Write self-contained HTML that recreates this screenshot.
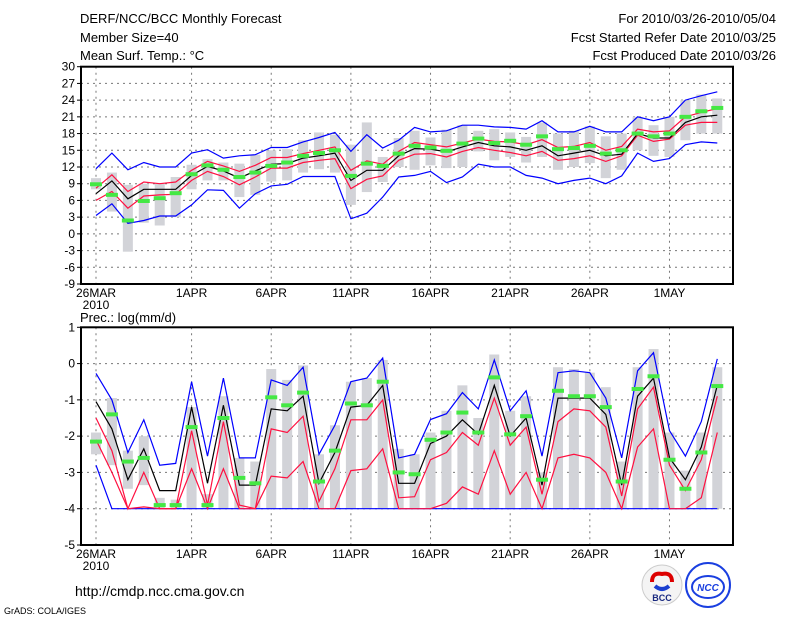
<!DOCTYPE html>
<html><head><meta charset="utf-8"><style>
html,body{margin:0;padding:0;background:#fff;}
svg{display:block;font-family:"Liberation Sans",sans-serif;}
</style></head><body>
<svg id="chart" width="800" height="618" viewBox="0 0 800 618">
<g font-size="13" fill="#000">
<text x="80" y="23">DERF/NCC/BCC Monthly Forecast</text>
<text x="80" y="42">Member Size=40</text>
<text x="80" y="60">Mean Surf. Temp.: °C</text>
<text x="776" y="23" text-anchor="end">For 2010/03/26-2010/05/04</text>
<text x="776" y="42" text-anchor="end">Fcst Started Refer Date 2010/03/25</text>
<text x="776" y="60" text-anchor="end">Fcst Produced Date 2010/03/26</text>
<text x="80" y="322">Prec.: log(mm/d)</text>
<text x="75" y="596" font-size="14">http://cmdp.ncc.cma.gov.cn</text>
<text x="4" y="614" font-size="9">GrADS: COLA/IGES</text>
</g>
<g>
<circle cx="662" cy="585" r="20" fill="#f4f4f4" stroke="#ccc"/>
<path d="M652 582 q0 -10 10 -8 q10 -2 10 8" fill="none" stroke="#d00" stroke-width="4"/>
<path d="M655 586 q7 6 14 0" fill="none" stroke="#1a3fd0" stroke-width="4"/>
<text x="662" y="601" font-size="9" font-weight="bold" text-anchor="middle" fill="#1a2a80">BCC</text>
</g>
<g>
<circle cx="708" cy="585" r="22" fill="#fff" stroke="#1a3fe0" stroke-width="2"/>
<ellipse cx="708" cy="587" rx="16" ry="11" fill="none" stroke="#1a3fe0" stroke-width="2"/>
<text x="708" y="591" font-size="10" font-weight="bold" font-style="italic" text-anchor="middle" fill="#1a3fe0">NCC</text>
</g>
<g id="top"></g>
<g id="bot"></g>
</svg>
<script>
const days=[...Array(40).keys()];
const xTickDays=[0,6,11,16,21,26,31,36];
const xTickLabels=["26MAR","1APR","6APR","11APR","16APR","21APR","26APR","1MAY"];
const tTicks=[-9,-6,-3,0,3,6,9,12,15,18,21,24,27,30];
const pTicks=[-5,-4,-3,-2,-1,0,1];
// temperature
const tBlueHi=[11.7,14.5,11.5,12.8,12.0,12.0,14.5,15.1,13.6,14.0,14.2,15.5,15.5,16.5,17.3,18.2,14.8,17.8,15.4,16.8,19.1,18.3,18.5,19.5,19.5,19.2,19.1,18.8,20.3,18.3,18.3,19.3,18.3,18.3,21.0,20.3,21.0,24.0,24.8,25.5];
const tBlueLo=[3.3,5.4,1.9,2.4,3.2,3.2,5.2,7.9,7.8,4.6,7.2,8.6,8.9,10.3,10.3,10.3,2.7,3.7,6.6,10.2,10.5,11.2,9.2,10.2,12.5,12.0,12.0,10.5,10.0,9.0,9.6,10.0,9.0,10.4,14.5,13.0,13.5,16.0,16.5,16.3];
const tRedHi=[8.2,10.6,7.6,9.3,9.0,9.3,11.4,13.0,12.2,11.2,12.3,13.7,13.7,14.4,15.0,15.6,11.4,13.1,12.5,14.8,16.4,16.0,15.6,16.3,17.0,16.6,16.5,16.0,16.9,15.5,15.7,16.4,15.0,15.7,18.8,18.3,18.5,21.0,21.8,22.5];
const tRedLo=[6.0,7.6,4.6,6.8,7.0,7.1,9.6,11.2,10.3,8.8,10.2,11.8,11.8,12.8,13.2,13.5,8.1,9.8,10.4,13.2,14.3,14.4,13.8,14.8,15.5,15.0,14.6,14.0,14.8,13.2,13.5,14.0,13.0,14.0,17.7,16.6,17.0,19.5,20.0,20.0];
const tMean=[7.2,9.5,6.3,8.0,8.0,8.0,10.5,12.1,11.3,10.0,11.3,12.5,12.6,13.6,14.0,14.5,9.6,11.4,11.4,14.0,15.3,15.2,14.7,15.6,16.4,15.8,15.6,15.0,15.8,14.0,14.5,15.0,14.0,14.3,18.0,17.2,17.2,20.0,21.0,21.3];
const tGreen=[8.9,7.0,2.4,5.9,6.4,7.3,10.7,12.3,11.5,10.2,11.0,12.2,12.8,14.0,14.5,15.0,10.4,12.6,12.2,14.4,15.8,15.5,14.9,16.2,17.1,16.3,16.7,16.0,17.5,15.2,15.4,15.8,14.4,15.0,18.0,17.5,18.0,21.0,22.0,22.6];
const tBarLo=[8,4,-3.2,2,1.5,3,8,9.6,9.6,6.6,7,9.4,9.6,11,11.6,11,5.2,7.5,9.3,12,11.5,12.3,11.8,12,14.8,13.2,13.8,12.8,13.8,11.5,12,12.7,10,11.5,15,14,13.8,16.8,18,18];
const tBarHi=[10,11,8.8,9,9,10.2,12.4,13.4,12.8,12.6,14.2,15,15.2,16.8,18.2,17.8,16,20,13.8,17.2,18.5,17.3,18.7,19.5,18.5,18.8,18.2,17.4,20,18,18.5,19.3,17.5,18,21,19.5,21,24,25,24.3];
// precipitation
const pBlueHi=[-0.27,-1.0,-2.45,-1.55,-2.8,-2.75,-0.5,-2.55,-0.4,-2.6,-2.6,-0.45,-0.6,-0.1,-2.5,-1.7,-0.5,-0.4,0.15,-2.6,-2.5,-1.54,-1.38,-0.8,-1.25,0.1,-1.3,-0.75,-2.55,-0.25,-0.2,-0.25,-0.95,-2.6,-0.2,0.3,-1.85,-2.55,-1.6,0.13];
const pBlueLo=[-2.8,-4,-4,-4,-4,-4,-4,-4,-4,-4,-4,-4,-4,-4,-4,-4,-4,-4,-4,-4,-4,-4,-4,-4,-4,-4,-4,-4,-4,-4,-4,-4,-4,-4,-4,-4,-4,-4,-4,-4];
const pRedHi=[-1.5,-2.4,-4,-3.0,-4,-4,-1.85,-3.9,-1.6,-3.9,-4,-1.8,-1.9,-1.45,-3.8,-2.9,-1.55,-1.55,-1.0,-3.7,-3.67,-2.65,-2.45,-1.9,-2.25,-0.95,-2.25,-1.75,-3.6,-1.6,-1.25,-1.3,-1.75,-3.65,-1.25,-0.65,-2.8,-3.5,-2.65,-0.9];
const pRedLo=[-2.1,-3.0,-4,-3.95,-4,-4,-2.9,-4,-2.9,-4,-4,-3.1,-3.15,-2.7,-4,-4,-2.95,-2.9,-2.35,-4,-4,-4,-3.85,-3.4,-3.6,-2.4,-3.6,-3.0,-4,-2.6,-2.5,-2.6,-3.0,-4,-2.3,-1.8,-4,-4,-3.7,-1.9];
const pMean=[-1.05,-1.8,-3.2,-2.35,-3.5,-3.5,-1.2,-3.3,-1.15,-3.35,-3.35,-1.25,-1.3,-0.9,-3.3,-2.45,-1.2,-1.15,-0.6,-3.3,-3.3,-2.2,-2.0,-1.55,-1.95,-0.6,-2.0,-1.5,-3.35,-0.95,-0.95,-0.95,-1.4,-3.35,-0.9,-0.4,-2.6,-3.2,-2.3,-0.6];
const pGreen=[-2.15,-1.4,-2.7,-2.6,-3.9,-3.9,-1.75,-3.9,-1.5,-3.15,-3.3,-0.93,-1.15,-0.8,-3.25,-2.4,-1.1,-1.15,-0.5,-3.0,-3.05,-2.1,-1.9,-1.35,-1.9,-0.38,-1.95,-1.45,-3.2,-0.75,-0.9,-0.9,-1.2,-3.25,-0.7,-0.35,-2.65,-3.45,-2.45,-0.62];
const pBarLo=[-2.5,-2.8,-3.45,-3.35,-4,-4,-4,-4,-4,-4,-4,-4,-4,-4,-4,-4,-4,-4,-4,-4,-4,-4,-4,-4,-4,-4,-4,-4,-4,-4,-4,-4,-4,-4,-4,-4,-4,-4,-4,-4];
const pBarHi=[-1.9,-0.95,-2.4,-2.0,-3.7,-3.75,-1.2,-3.6,-0.9,-2.6,-2.7,-0.15,-0.45,-0.05,-2.5,-1.7,-0.5,-0.4,0.1,-2.35,-2.5,-1.9,-1.3,-0.6,-1.5,0.25,-1.3,-0.9,-3.0,-0.1,-0.15,-0.25,-0.65,-2.7,-0.1,0.4,-1.9,-2.95,-1.9,-0.1];

const NS="http://www.w3.org/2000/svg";
const X0=81,X1=733;
function xs(d){return 96+d*15.93;}
function mk(tag,parent,attrs){const e=document.createElementNS(NS,tag);for(const k in attrs)e.setAttribute(k,attrs[k]);parent.appendChild(e);return e;}

function panel(g,top,bot,vmin,vmax,ticks,series,bars,green,prefix){
  const ys=v=>top+(vmax-v)*(bot-top)/(vmax-vmin);
  // grid
  ticks.forEach(t=>{
    if(t>vmin&&t<vmax){const l=mk('line',g,{x1:X0,x2:X1,y1:ys(t),y2:ys(t),stroke:'#777','stroke-dasharray':'2,4','stroke-width':1});
    
    }
    const tk=mk('line',g,{x1:X0-4,x2:X0,y1:ys(t),y2:ys(t),stroke:'#000'});
    
    
    const tx=mk('text',g,{x:X0-6,y:ys(t)+4,'font-size':12,'text-anchor':'end'});
    tx.textContent=String(t);
    
    
  });
  xTickDays.forEach((d,i)=>{
    const l=mk('line',g,{x1:xs(d),x2:xs(d),y1:top,y2:bot,stroke:'#777','stroke-dasharray':'2,4'});
    
    
    const tx=mk('text',g,{x:xs(d),y:bot+13,'font-size':12,'text-anchor':'middle'});
    tx.textContent=xTickLabels[i];
    
    
  });
  const yr=mk('text',g,{x:xs(0),y:bot+25,'font-size':12,'text-anchor':'middle'});
  yr.textContent='2010';
  
  
  // bars
  days.forEach(d=>{
    const a=ys(bars[1][d]),b=ys(bars[0][d]);
    const r=mk('rect',g,{x:xs(d)-5,y:a,width:10,height:Math.max(1,b-a),fill:'#d2d3d8'});
    
    
  });
  series.forEach(s=>{
    const pts=days.map(d=>xs(d).toFixed(1)+','+ys(s.v[d]).toFixed(1)).join(' ');
    const p=mk('polyline',g,{points:pts,fill:'none',stroke:s.c,'stroke-width':1.2});
    
    
  });
  days.forEach(d=>{
    const r=mk('rect',g,{x:xs(d)-6,y:ys(green[d])-2,width:12,height:4,fill:'#44e844'});
    
    
  });
  const f=mk('rect',g,{x:X0,y:top,width:X1-X0,height:bot-top,fill:'none',stroke:'#000','stroke-width':2});
  
  
}
panel(document.getElementById('top'),66.7,284,-9,30,tTicks,
 [{n:'max-line',v:tBlueHi,c:'#0000ff'},{n:'min-line',v:tBlueLo,c:'#0000ff'},{n:'upper-line',v:tRedHi,c:'#ff1040'},{n:'lower-line',v:tRedLo,c:'#ff1040'},{n:'mean-line',v:tMean,c:'#000'}],
 [tBarLo,tBarHi],tGreen,'temp');
panel(document.getElementById('bot'),327.3,545,-5,1,pTicks,
 [{n:'min-line',v:pBlueLo,c:'#0000ff'},{n:'max-line',v:pBlueHi,c:'#0000ff'},{n:'upper-line',v:pRedHi,c:'#ff1040'},{n:'lower-line',v:pRedLo,c:'#ff1040'},{n:'mean-line',v:pMean,c:'#000'}],
 [pBarLo,pBarHi],pGreen,'prec');
</script>
</body></html>
